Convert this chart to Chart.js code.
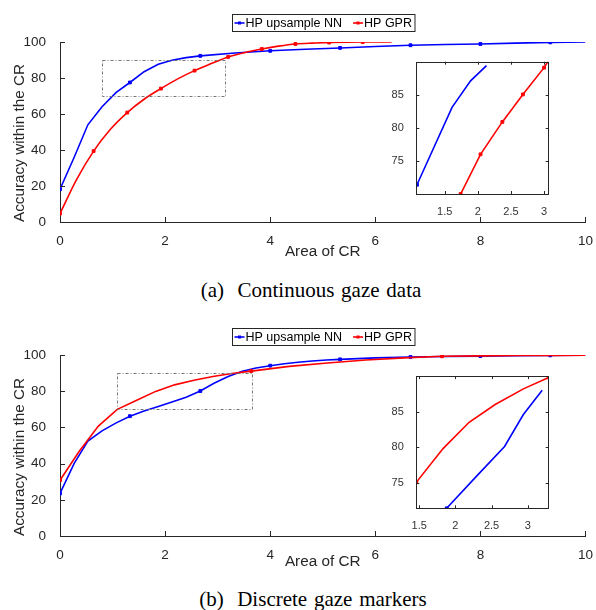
<!DOCTYPE html>
<html>
<head>
<meta charset="utf-8">
<script src="https://cdn.jsdelivr.net/npm/chart.js@4.4.1/dist/chart.umd.min.js"></script>
<style>
  html, body { margin: 0; padding: 0; background: #fff; overflow: hidden; }
  #page { position: relative; width: 596px; height: 610px; }
  canvas { position: absolute; }
  .caption { position: absolute; text-align: center; font-family: 'Liberation Serif', 'Times New Roman', serif;
             font-size: 21px; line-height: 24px; color: #000; word-spacing: 1.5px; white-space: nowrap; }
</style>
</head>
<body>
<div id="page">
  <canvas id="mainA" width="596" height="262" style="left:0;top:0"></canvas>
  <canvas id="insetA" width="180" height="165" style="left:380px;top:50px"></canvas>
  <div class="caption" style="left:26px;width:570px;top:278px">(a)&nbsp; Continuous gaze data</div>
  <canvas id="mainB" width="596" height="262" style="left:0;top:310px"></canvas>
  <canvas id="insetB" width="180" height="165" style="left:380px;top:365px"></canvas>
  <div class="caption" style="left:30px;width:566px;top:587px">(b)&nbsp; Discrete gaze markers</div>
</div>
<script>
// ---- data ----
const seriesNames = ['HP upsample NN', 'HP GPR'];
const xTicks = [0, 2, 4, 6, 8, 10];
const yTicks = [0, 20, 40, 60, 80, 100];

// (a) continuous gaze data
const aNNx = [0, 0.27, 0.53, 0.8, 1.07, 1.33, 1.6, 1.87, 2.13, 2.4, 2.67, 3.33, 4.0, 4.67, 5.33, 6.0, 6.67, 7.33, 8.0, 8.67, 9.33, 10];
const aNNy = [18.2, 36, 54, 64, 72, 77.5, 83.5, 87.6, 89.9, 91.3, 92.3, 93.9, 95.1, 96, 96.7, 97.5, 98.2, 98.6, 98.9, 99.4, 99.8, 100];
const aNNmarks = [0, 5, 10, 12, 14, 16, 18, 20];
const aGPRx = [0, 0.32, 0.64, 0.96, 1.28, 1.6, 1.92, 2.24, 2.56, 2.88, 3.2, 3.52, 3.84, 4.16, 4.48, 4.8, 5.12, 5.44, 5.76, 6.08, 6.31];
const aGPRy = [4.7, 23.8, 39.4, 51.5, 60.8, 68.2, 74.1, 79.5, 84.1, 88, 91.7, 94.2, 96.1, 97.7, 98.9, 99.4, 99.7, 99.9, 100, 100, 100];
const aGPRmarks = [0, 2, 4, 6, 8, 10, 12, 14, 16, 18];
const aZoomBox = [0.8, 3.14, 70, 90];

// (a) inset
const aInNNx = [1.08, 1.61, 1.89, 2.13];
const aInNNy = [71.4, 83.1, 87.1, 89.4];
const aInNNmarks = [0];
const aInGPRx = [1.74, 2.04, 2.37, 2.68, 3.0, 3.07];
const aInGPRy = [70, 76, 80.9, 85.05, 89.1, 90.2];
const aInGPRmarks = [0, 1, 2, 3, 4];
const aInXRange = [1.07, 3.07];
const aInYRange = [70, 90];
const aInXTicks = [1.5, 2, 2.5, 3];
const aInYTicks = [75, 80, 85];

// (b) discrete gaze markers
const bNNx = [0, 0.27, 0.53, 0.8, 1.07, 1.33, 1.6, 1.87, 2.13, 2.4, 2.67, 2.93, 3.2, 3.47, 3.73, 4.0, 4.27, 4.53, 4.8, 5.07, 5.33, 6.0, 6.67, 7.33, 8.0, 8.67, 9.33, 10];
const bNNy = [23.5, 40.1, 52.4, 58.1, 62.5, 66.2, 69, 71.5, 74, 76.6, 80.1, 84.4, 88.1, 91, 92.8, 94.1, 95.2, 96, 96.7, 97.2, 97.6, 98.4, 98.9, 99.2, 99.4, 99.6, 99.8, 99.9];
const bNNmarks = [0, 5, 10, 15, 20, 22, 24, 26];
const bGPRx = [0, 0.36, 0.73, 1.09, 1.46, 1.82, 2.18, 2.55, 2.91, 3.27, 3.64, 4.36, 5.09, 5.82, 6.55, 7.27, 8.0, 8.73, 9.45, 10];
const bGPRy = [30.8, 46.5, 60.7, 70, 75.05, 79.9, 83.5, 86.1, 88.1, 89.8, 91.1, 93.7, 95.6, 97.2, 98.4, 99.3, 99.5, 99.7, 99.8, 99.9];
const bGPRmarks = [0, 10, 15];
const bZoomBox = [1.08, 3.64, 70, 90];

// (b) inset
const bInNNx = [1.88, 2.3, 2.68, 2.94, 3.2];
const bInNNy = [71.4, 76, 80.1, 84.6, 88.0];
const bInNNmarks = [0];
const bInGPRx = [1.46, 1.83, 2.19, 2.55, 2.94, 3.29];
const bInGPRy = [75.05, 79.8, 83.5, 86.0, 88.2, 89.8];
const bInGPRmarks = [0, 5];
const bInXRange = [1.46, 3.29];
const bInYRange = [71.4, 90];
const bInXTicks = [1.5, 2, 2.5, 3];
const bInYTicks = [75, 80, 85];

// ---- drawing ----
const ink = '#262626';
const sans = "'Liberation Sans', Arial, sans-serif";
const colors = ['#0000ff', '#ff0000'];

function pts(xs, ys) {
  return xs.map((x, i) => ({ x: x, y: ys[i] }));
}

function series(label, xs, ys, marks, color, order, smooth) {
  return {
    label: label,
    data: pts(xs, ys),
    borderColor: color,
    backgroundColor: color,
    borderWidth: 1.6,
    pointStyle: 'rect',
    pointRadius: ctx => marks.includes(ctx.dataIndex) ? 2 : 0,
    pointBorderWidth: 1,
    tension: 0,
    cubicInterpolationMode: smooth ? 'monotone' : 'default',
    order: order
  };
}

// MATLAB style ticks pointing into the axes, optional full box
const axisTicks = {
  id: 'axisTicks',
  afterDraw(chart, args, opts) {
    const { ctx, chartArea: a, scales: { x, y } } = chart;
    ctx.save();
    ctx.strokeStyle = ink;
    ctx.lineWidth = 1;
    ctx.beginPath();
    x.ticks.forEach(t => {
      const px = Math.round(x.getPixelForValue(t.value)) + 0.5;
      ctx.moveTo(px, a.bottom); ctx.lineTo(px, a.bottom - opts.len);
      if (opts.box) { ctx.moveTo(px, a.top); ctx.lineTo(px, a.top + opts.len); }
    });
    y.ticks.forEach(t => {
      const py = Math.round(y.getPixelForValue(t.value)) + 0.5;
      ctx.moveTo(a.left, py); ctx.lineTo(a.left + opts.len, py);
      if (opts.box) { ctx.moveTo(a.right, py); ctx.lineTo(a.right - opts.len, py); }
    });
    ctx.stroke();
    if (opts.box) {
      ctx.strokeRect(Math.round(a.left) + 0.5, Math.round(a.top) + 0.5,
                     Math.round(a.right - a.left), Math.round(a.bottom - a.top));
    }
    ctx.restore();
  }
};

// dashed rectangle marking the zoomed region
const zoomBox = {
  id: 'zoomBox',
  afterDatasetsDraw(chart, args, opts) {
    if (!opts.box) return;
    const { ctx, scales: { x, y } } = chart;
    const [x0, x1, y0, y1] = opts.box;
    const l = x.getPixelForValue(x0), r = x.getPixelForValue(x1);
    const t = y.getPixelForValue(y1), b = y.getPixelForValue(y0);
    ctx.save();
    ctx.strokeStyle = '#777';
    ctx.lineWidth = 1;
    ctx.setLineDash([3, 2, 1, 2]);
    ctx.strokeRect(Math.round(l) + 0.5, Math.round(t) + 0.5, Math.round(r - l), Math.round(b - t));
    ctx.restore();
  }
};

// boxed legend with line + marker swatches, centered over the axes
const boxLegend = {
  id: 'boxLegend',
  afterDraw(chart, args, opts) {
    if (!opts.show) return;
    const { ctx, chartArea: a } = chart;
    const items = chart.data.datasets.map(ds => ({ label: ds.label, color: ds.borderColor }));
    ctx.save();
    ctx.font = '12.5px ' + sans;
    const sw = 11, gap = 11, h = 17;
    let w = 3;
    items.forEach((it, i) => { w += sw + ctx.measureText(it.label).width + (i ? gap : 0); });
    w += 2;
    const x0 = Math.round((a.left + a.right) / 2 - w / 2) + 0.5;
    const y0 = Math.round(a.top - opts.above) + 0.5;
    ctx.fillStyle = '#fff';
    ctx.fillRect(x0, y0, w, h);
    ctx.strokeStyle = ink;
    ctx.lineWidth = 1;
    ctx.strokeRect(x0, y0, w, h);
    const ym = y0 + h / 2;
    let x = x0 + 2;
    items.forEach((it, i) => {
      if (i) x += gap;
      ctx.strokeStyle = it.color;
      ctx.lineWidth = 1.6;
      ctx.beginPath(); ctx.moveTo(x, ym); ctx.lineTo(x + 10, ym); ctx.stroke();
      ctx.fillStyle = it.color;
      ctx.fillRect(x + 3.5, ym - 1.5, 3, 3);
      ctx.fillStyle = '#000';
      ctx.textBaseline = 'middle';
      ctx.fillText(it.label, x + sw, ym + 0.5);
      x += sw + ctx.measureText(it.label).width;
    });
    ctx.restore();
  }
};

function mainChart(id, nn, gpr, box, padTop, xHeight, legendAbove) {
  new Chart(document.getElementById(id), {
    type: 'line',
    data: { datasets: [nn, gpr] },
    options: {
      responsive: false,
      animation: false,
      layout: { padding: { left: 0, top: padTop, right: 8, bottom: 0 } },
      plugins: {
        legend: { display: false },
        tooltip: { enabled: false },
        axisTicks: { len: 5, box: false },
        zoomBox: { box: box },
        boxLegend: { show: true, above: legendAbove }
      },
      scales: {
        x: {
          type: 'linear', min: 0, max: 10,
          afterBuildTicks: s => { s.ticks = xTicks.map(v => ({ value: v })); },
          afterFit: s => { s.height = xHeight; },
          grid: { display: false },
          border: { display: true, color: ink, width: 1 },
          ticks: { color: ink, padding: 3, font: { family: sans, size: 13.5 }, callback: v => String(v) },
          title: { display: true, text: 'Area of CR', color: ink, padding: { top: 0, bottom: 1 },
                   font: { family: sans, size: 15.3 } }
        },
        y: {
          type: 'linear', min: 0, max: 100,
          afterBuildTicks: s => { s.ticks = yTicks.map(v => ({ value: v })); },
          afterFit: s => { s.width = 60; },
          grid: { display: false },
          border: { display: true, color: ink, width: 1 },
          ticks: { color: ink, padding: 6, font: { family: sans, size: 13.5 }, callback: v => String(v) },
          title: { display: true, text: 'Accuracy within the CR', color: ink, align: 'start',
                   padding: { top: 11, bottom: 0 }, font: { family: sans, size: 15.3 } }
        }
      }
    },
    plugins: [axisTicks, zoomBox, boxLegend]
  });
}

function insetChart(id, nn, gpr, xr, yr, xt, yt, area) {
  const c = document.getElementById(id);
  new Chart(c, {
    type: 'line',
    data: { datasets: [nn, gpr] },
    options: {
      responsive: false,
      animation: false,
      layout: { padding: { left: 0, top: area.top, right: c.width - area.right, bottom: 0 } },
      plugins: {
        legend: { display: false },
        tooltip: { enabled: false },
        axisTicks: { len: 3, box: true },
        zoomBox: { box: null },
        boxLegend: { show: false }
      },
      scales: {
        x: {
          type: 'linear', min: xr[0], max: xr[1],
          afterBuildTicks: s => { s.ticks = xt.map(v => ({ value: v })); },
          afterFit: s => { s.height = c.height - area.bottom; },
          grid: { display: false },
          border: { display: false },
          ticks: { color: '#333', padding: 3, font: { family: sans, size: 11 }, callback: v => String(v) }
        },
        y: {
          type: 'linear', min: yr[0], max: yr[1],
          afterBuildTicks: s => { s.ticks = yt.map(v => ({ value: v })); },
          afterFit: s => { s.width = area.left; },
          grid: { display: false },
          border: { display: false },
          ticks: { color: '#333', padding: 4.5, font: { family: sans, size: 11 }, callback: v => String(v) }
        }
      }
    },
    plugins: [axisTicks]
  });
}

mainChart('mainA',
  series(seriesNames[0], aNNx, aNNy, aNNmarks, colors[0], 1, false),
  series(seriesNames[1], aGPRx, aGPRy, aGPRmarks, colors[1], 0, true),
  aZoomBox, 42, 40, 28.5);

insetChart('insetA',
  series(seriesNames[0], aInNNx, aInNNy, aInNNmarks, colors[0], 1, false),
  series(seriesNames[1], aInGPRx, aInGPRy, aInGPRmarks, colors[1], 0, false),
  aInXRange, aInYRange, aInXTicks, aInYTicks,
  { left: 36.3, top: 11.7, right: 168.7, bottom: 144 });

mainChart('mainB',
  series(seriesNames[0], bNNx, bNNy, bNNmarks, colors[0], 1, false),
  series(seriesNames[1], bGPRx, bGPRy, bGPRmarks, colors[1], 0, false),
  bZoomBox, 45, 36, 27.5);

insetChart('insetB',
  series(seriesNames[0], bInNNx, bInNNy, bInNNmarks, colors[0], 1, false),
  series(seriesNames[1], bInGPRx, bInGPRy, bInGPRmarks, colors[1], 0, false),
  bInXRange, bInYRange, bInXTicks, bInYTicks,
  { left: 36.3, top: 11, right: 168.7, bottom: 143.3 });
</script>
</body>
</html>
